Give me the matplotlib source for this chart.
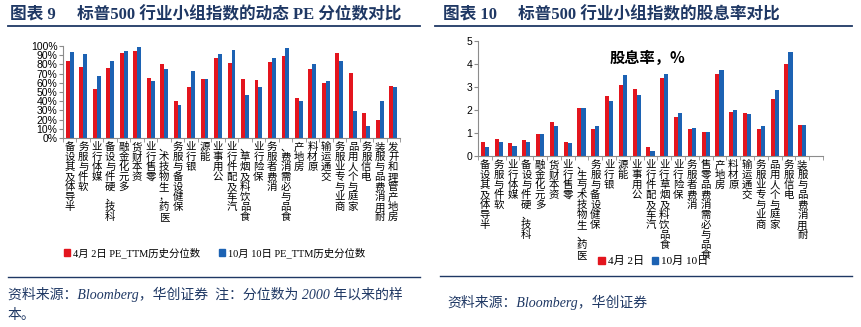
import matplotlib.pyplot as plt
from matplotlib.patches import Patch
from matplotlib.lines import Line2D

plt.rcParams['font.family'] = ['Noto Sans CJK SC', 'DejaVu Sans']

# 数据
pe_cats = ["半导体及其设备", "软件与服务", "媒体行业", "科技、硬件与设备", "多元化金融",
           "资本财货", "零售行业", "医药，生物技术、", "保健设备与服务", "银行业",
           "能源", "公用事业", "汽车及配件行业", "食品饮料及烟草、", "保险行业",
           "消费者服务", "食品与必需消费、", "房地产", "原材料", "交通运输",
           "商业与专业服务", "家庭与个人用品", "电信服务", "耐用消费品与服装", "房地产管理和开发"]
pe_apr = [84, 77, 53, 76.5, 92, 95, 65, 80, 40, 55, 64, 87, 81.5, 64, 63.5,
          83, 89, 44, 75.5, 60, 92.5, 71, 27, 20, 57]
pe_oct = [93, 91, 67, 84, 94.5, 98.5, 62.5, 75, 35.5, 72.5, 64, 91, 96, 47, 55.5,
          87, 97.5, 40, 80, 62, 83.5, 29, 13.5, 40.5, 55.5]

dy_cats = ["半导体及其设备", "软件与服务", "媒体行业", "科技、硬件与设备", "多元化金融",
           "资本财货", "零售行业", "医药、生物技术与生、", "保健设备与服务", "银行业",
           "能源", "公用事业", "汽车及配件行业", "食品饮料及烟草行业", "保险行业",
           "消费者服务", "食品与必需消费品零售", "房地产", "原材料", "交通运输",
           "商业与专业服务", "家庭与个人用品", "电信服务", "耐用消费品与服装"]
dy_apr = [0.61, 0.75, 0.55, 0.68, 0.97, 1.49, 0.61, 2.07, 1.19, 2.59, 3.09, 2.90,
          0.38, 3.41, 1.68, 1.17, 1.06, 3.58, 1.91, 1.88, 1.16, 2.46, 4.00, 1.35]
dy_oct = [0.39, 0.61, 0.42, 0.61, 0.97, 1.32, 0.55, 2.07, 1.32, 2.38, 3.51, 2.64,
          0.22, 3.55, 1.86, 1.22, 1.03, 3.74, 1.99, 1.81, 1.32, 2.88, 4.52, 1.35]

RED = '#E3151E'
BLUE = '#1C62B3'
NAVY = '#1F3864'
SPINE = '#8C8C8C'
W, H = 862, 327

fig = plt.figure(figsize=(W / 100, H / 100), dpi=100)


def px(x, y):
    return x / W, 1 - y / H


def stack(s):
    # 竖排，从下往上读
    return "\n".join(reversed(s))


def bars(ax, cats, a, b, nslots):
    x = list(range(len(cats)))
    bw = 0.29
    ax.bar([i - bw / 2 for i in x], a, bw, color=RED)
    ax.bar([i + bw / 2 for i in x], b, bw, color=BLUE)
    ax.set_xlim(-0.5, nslots - 0.5)
    ax.set_xticks(x)
    ax.set_xticklabels([stack(c) for c in cats], fontsize=7.5, linespacing=1.0,
                       va='top', ha='center')
    ax.set_xticks([i - 0.5 for i in range(nslots + 1)], minor=True)
    ax.tick_params(axis='x', which='major', length=0, pad=3)
    ax.tick_params(axis='x', which='minor', length=3, color=SPINE, direction='out')
    ax.tick_params(axis='y', length=3, color=SPINE, labelsize=7.5, pad=1)
    for s in ['top', 'right']:
        ax.spines[s].set_visible(False)
    for s in ['left', 'bottom']:
        ax.spines[s].set_color(SPINE)
        ax.spines[s].set_linewidth(0.8)


# 左图
l, b = px(63, 138)
ax1 = fig.add_axes([l, b, 337 / W, 92 / H])
bars(ax1, pe_cats, pe_apr, pe_oct, len(pe_cats))
ax1.set_ylim(0, 100)
ax1.set_yticks(range(0, 101, 10))
ax1.set_yticklabels([f"{v}%" for v in range(0, 101, 10)])
for t in ax1.get_yticklabels():
    t.set_family(['Liberation Sans', 'DejaVu Sans'])

# 右图
l, b = px(478, 156)
ax2 = fig.add_axes([l, b, 345 / W, 115 / H])
bars(ax2, dy_cats, dy_apr, dy_oct, len(dy_cats) + 1)
ax2.set_ylim(0, 5)
ax2.set_yticks(range(0, 6))
for t in ax2.get_yticklabels():
    t.set_family(['Liberation Sans', 'DejaVu Sans'])
ax2.text(0.49, 0.85, "股息率，%", transform=ax2.transAxes, ha='center', va='center',
         fontsize=11, fontweight='bold')

# 图例
serif = ['Liberation Serif', 'Noto Sans CJK SC']
h1 = [Patch(color=RED), Patch(color=BLUE)]
fig.legend(h1, ["4月 2日 PE_TTM历史分位数", "10月 10日 PE_TTM历史分位数"],
           loc='center left', bbox_to_anchor=px(60, 253), ncol=2, frameon=False,
           handlelength=0.6, handleheight=0.6, handletextpad=0.25,
           columnspacing=1.8, borderaxespad=0, prop={'family': serif, 'size': 7.5})
fig.legend(h1, ["4月 2日", "10月 10日"],
           loc='center left', bbox_to_anchor=px(594, 261), ncol=2, frameon=False,
           handlelength=0.6, handleheight=0.6, handletextpad=0.25,
           columnspacing=0.7, borderaxespad=0, prop={'family': serif, 'size': 8})

# 标题与分隔线
title_font = ['Liberation Serif', 'Noto Sans CJK SC']
fig.text(*px(10, 15), "图表 9", color=NAVY, fontsize=12, fontweight='bold',
         va='center', family=title_font)
fig.text(*px(77, 15), "标普500 行业小组指数的动态 PE 分位数对比", color=NAVY, fontsize=12,
         fontweight='bold', va='center', family=title_font)
fig.text(*px(443, 15), "图表 10", color=NAVY, fontsize=12, fontweight='bold',
         va='center', family=title_font)
fig.text(*px(518, 15), "标普500 行业小组指数的股息率对比", color=NAVY, fontsize=12,
         fontweight='bold', va='center', family=title_font)

for x0, x1, y, lw in [(8, 420, 26, 1.3), (435, 852, 26, 1.3),
                      (8, 420, 277, 1.0), (440, 852, 276, 1.0)]:
    (a0, yy), (a1, _) = px(x0, y), px(x1, y)
    fig.add_artist(Line2D([a0, a1], [yy, yy], color=NAVY, lw=lw))

# 资料来源
fig.text(*px(8, 294), "资料来源：Bloomberg，华创证券  注：分位数为 2000 年以来的样",
         color=NAVY, fontsize=10, style='italic', va='center', family=serif)
fig.text(*px(8, 316), "本。", color=NAVY, fontsize=10, style='italic', va='center',
         family=serif)
fig.text(*px(447, 302), "资料来源：Bloomberg，华创证券", color=NAVY, fontsize=10,
         style='italic', va='center', family=serif)

fig.savefig("out.png", dpi=100)
